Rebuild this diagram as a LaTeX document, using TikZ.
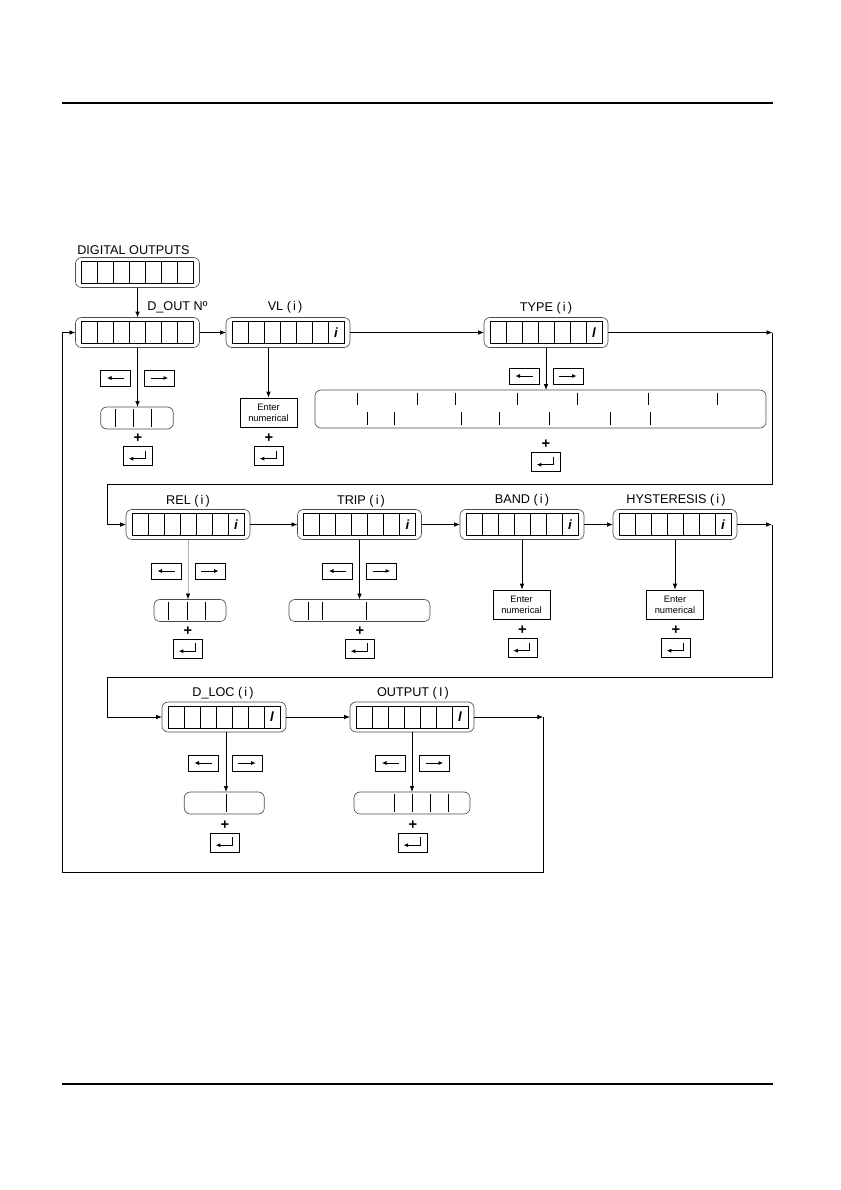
\documentclass[tikz,border=0pt]{standalone}
\usepackage{fontspec}
\setmainfont{Liberation Sans}
\usetikzlibrary{arrows.meta,calc}
\tikzset{
 lbl/.style={font=\fontsize{9.5}{11}\selectfont, inner sep=0pt},
 outerdisp/.style={draw=black!70, line width=0.5pt, rounded corners=4.5pt, minimum width=93pt, minimum height=22.5pt, inner sep=0pt, outer sep=0pt},
 innerdisp/.style={draw=black, line width=0.6pt, minimum width=84pt, minimum height=16.5pt, inner sep=0pt, outer sep=0pt},
 valbox/.style={draw=black!70, line width=0.5pt, rounded corners=4.5pt, minimum height=16.5pt, inner sep=0pt, outer sep=0pt},
 keybox/.style={draw=black, line width=0.6pt, minimum width=22.5pt, minimum height=12pt, inner sep=0pt},
 enterbox/.style={draw=black, line width=0.6pt, minimum width=21.75pt, minimum height=14.25pt, inner sep=0pt},
 numbox/.style={draw=black, line width=0.6pt, minimum width=42.75pt, minimum height=21.75pt, inner sep=0pt, align=center, font=\fontsize{7}{8.5}\selectfont},
 plussign/.style={font=\fontsize{11}{11}\selectfont\bfseries, inner sep=0pt},
 conn/.style={line width=0.6pt, -{Latex[length=4.5pt,width=3.5pt]}},
 wire/.style={line width=0.6pt},
 keyarrow/.style={line width=0.6pt, -{Latex[length=3.5pt,width=3pt]}},
 cellchar/.style={font=\fontsize{10}{10}\selectfont\bfseries\itshape, inner sep=0pt},
}
\newcommand\mydisp[4]{%
 \node[outerdisp] (#1) at (#2,#3) {};
 \node[innerdisp] (#1-in) at (#2,#3) {};
 \foreach \k in {1,...,6}{\draw[line width=0.5pt] ($(#1-in.south west)!\k/7!(#1-in.south east)$) -- ($(#1-in.north west)!\k/7!(#1-in.north east)$);}
 \node[cellchar] (#1-ch) at ($(#1-in.west)!13/14!(#1-in.east)$) {#4};
}
\newcommand\myval[5]{%
 \node[valbox, minimum width=#4*0.75pt] (#1) at (#2,#3) {};
 \foreach \d in {#5}{\draw[line width=0.6pt] ([xshift=\d*0.75pt, yshift=-1.5pt]#1.north west) -- ([xshift=\d*0.75pt, yshift=1.5pt]#1.south west);}
}
\newcommand\keypair[3]{%
 \node[keybox] (#1l) at (#2-22,#3) {};
 \node[keybox] (#1r) at (#2+22,#3) {};
 \draw[keyarrow] ([xshift=6.5pt]#1l.center) -- ([xshift=-6.5pt]#1l.center);
 \draw[keyarrow] ([xshift=-6.5pt]#1r.center) -- ([xshift=6.5pt]#1r.center);
}
\newcommand\myenter[3]{%
 \node[plussign] (#1p) at (#2,#3-17.5) {+};
 \node[enterbox] (#1) at (#2,#3) {};
 \draw[keyarrow] ([xshift=5.5pt,yshift=4pt]#1.center) -- ([xshift=5.5pt,yshift=-2pt]#1.center) -- ([xshift=-7pt,yshift=-2pt]#1.center);
}
\begin{document}
\begin{tikzpicture}[x=0.75pt,y=-0.75pt]
\fill[white] (0,0) rectangle (840,1190);
\useasboundingbox (0,0) rectangle (840,1190);

% page rules
\draw[line width=0.9pt] (62,103) -- (773,103);
\draw[line width=0.9pt] (62,1084) -- (773,1084);

% displays
\mydisp{DO}{137.5}{272.5}{}
\mydisp{DOUT}{137.5}{332.5}{}
\mydisp{VL}{288}{332.5}{i}
\mydisp{TYPE}{546}{332.5}{l}
\mydisp{REL}{188}{524.5}{i}
\mydisp{TRIP}{359.5}{524.5}{i}
\mydisp{BAND}{522}{524.5}{i}
\mydisp{HYST}{675}{524.5}{i}
\mydisp{DLOC}{224}{717}{l}
\mydisp{OUT}{412}{717}{l}

% labels
\node[lbl] (DOlbl) at (133.5,250) {DIGITAL OUTPUTS};
\node[lbl, anchor=west] (DOUTlbl) at (147,307) {D\_OUT Nº};
\node[lbl] (VLlbl) at (285,307) {VL (\,i\,)};
\node[lbl] (TYPElbl) at (546,308) {TYPE (\,i\,)};
\node[lbl] (RELlbl) at (188,501) {REL (\,i\,)};
\node[lbl] (TRIPlbl) at (361,501) {TRIP (\,i\,)};
\node[lbl] (BANDlbl) at (522,500) {BAND (\,i\,)};
\node[lbl] (HYSTlbl) at (676,500) {HYSTERESIS (\,i\,)};
\node[lbl] (DLOClbl) at (223,693) {D\_LOC (\,i\,)};
\node[lbl] (OUTlbl) at (413,693) {OUTPUT (\,I\,)};

% key pairs
\keypair{DOUTk}{137.5}{378}
\keypair{TYPEk}{546}{376}
\keypair{RELk}{188}{571}
\keypair{TRIPk}{359.5}{571}
\keypair{DLOCk}{225}{763}
\keypair{OUTk}{412.5}{763}

% value boxes
\myval{DOUTv}{137}{418}{72.6}{15,33,51}
\myval{RELv}{190}{610.5}{72}{14.5,33,51.5}
\myval{TRIPv}{359.5}{610.5}{141}{19.3,33.7,77.7}
\myval{DLOCv}{224.3}{803}{80}{41.7}
\myval{OUTv}{412}{803}{116}{40,58,76.4,94.7}
\node[valbox, minimum width=338.25pt, minimum height=28.5pt] (TYPEv) at (540.5,409) {};
\foreach \t in {357.5,417.3,455.5,517.5,577.3,648.3,717.3} \draw[wire] (\t,392.7) -- (\t,405);
\foreach \t in {367.7,394.5,461.5,499.3,549.3,610.5,650.2} \draw[wire] (\t,412.3) -- (\t,425);

% enter numerical boxes
\node[numbox] (VLe) at (268.5,412.5) {Enter\\numerical};
\node[numbox] (BANDe) at (521.5,604.5) {Enter\\numerical};
\node[numbox] (HYSTe) at (675,604.5) {Enter\\numerical};

% plus + enter keys
\myenter{DOUTe}{138}{456}
\myenter{VLent}{269}{456}
\myenter{TYPEe}{546}{462}
\myenter{RELe}{188}{648.5}
\myenter{TRIPe}{360}{648.5}
\myenter{BANDent}{522.5}{648}
\myenter{HYSTent}{676}{648}
\myenter{DLOCe}{225}{842.5}
\myenter{OUTe}{412.8}{842.5}

% main flow connectors
\draw[conn] (DO) -- (DOUT);
\draw[conn] (DOUT) -- (VL);
\draw[conn] (VL) -- (TYPE);
\coordinate (c1) at (772.5,332.5);
\coordinate (c2) at (107,484);
\draw[conn] (TYPE) -- (c1);
\draw[conn] (c1) |- (c2) |- (REL);
\draw[conn] (REL) -- (TRIP);
\draw[conn] (TRIP) -- (BAND);
\draw[conn] (BAND) -- (HYST);
\coordinate (c3) at (772,524.5);
\coordinate (c4) at (107,677);
\draw[conn] (HYST) -- (c3);
\draw[conn] (c3) |- (c4) |- (DLOC);
\draw[conn] (DLOC) -- (OUT);
\coordinate (c5) at (543.3,717);
\coordinate (c6) at (62,872);
\draw[conn] (OUT) -- (c5);
\draw[conn] (c5) |- (c6) |- (DOUT);

% down connectors
\draw[conn] (DOUT.south) -- (DOUT.south |- DOUTv.north);
\draw[conn] (VL.south -| VLe.north) -- (VLe.north);
\draw[conn] (TYPE.south) -- (TYPE.south |- TYPEv.north);
\draw[line width=0.6pt, draw=black!30, -{Latex[length=4.5pt,width=3.5pt,color=black]}] (REL.south) -- (REL.south |- RELv.north);
\draw[conn] (TRIP.south) -- (TRIP.south |- TRIPv.north);
\draw[conn] (BAND.south) -- (BAND.south |- BANDe.north);
\draw[conn] (HYST.south) -- (HYST.south |- HYSTe.north);
\draw[conn] ([xshift=1.5pt]DLOC.south) -- ([xshift=1.5pt]DLOC.south |- DLOCv.north);
\draw[conn] (OUT.south) -- (OUT.south |- OUTv.north);
\end{tikzpicture}
\end{document}
